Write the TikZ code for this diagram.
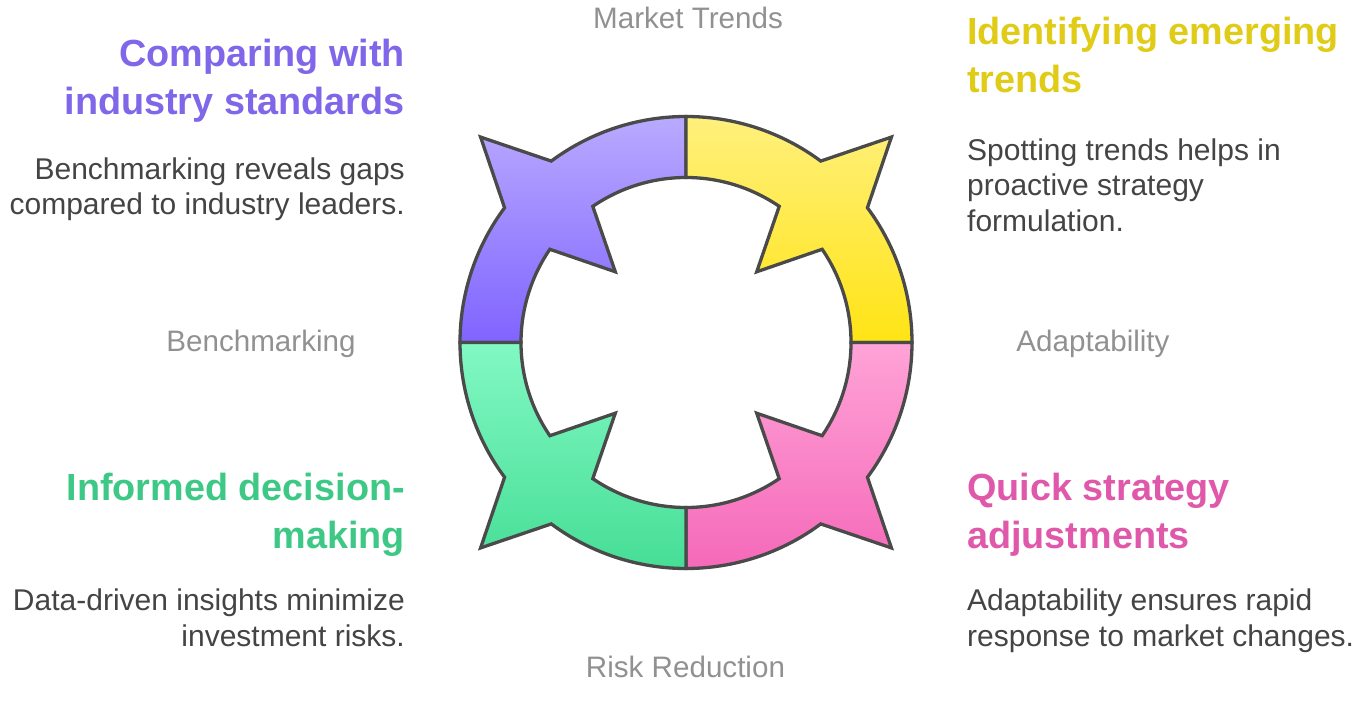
\documentclass[tikz,border=0pt]{standalone}
\usepackage{fontspec}
\setmainfont{Liberation Sans}
\definecolor{cpurple}{RGB}{128,102,232}
\definecolor{cyellow}{RGB}{224,203,22}
\definecolor{cgreen}{RGB}{61,201,133}
\definecolor{cpink}{RGB}{224,88,170}
\definecolor{cdesc}{RGB}{68,68,68}
\definecolor{cgray}{RGB}{145,145,145}
\definecolor{cstroke}{RGB}{74,74,74}
\definecolor{pTop}{RGB}{185,170,255}
\definecolor{pBot}{RGB}{128,100,255}
\definecolor{yTop}{RGB}{255,240,125}
\definecolor{yBot}{RGB}{255,228,20}
\definecolor{kTop}{RGB}{255,163,215}
\definecolor{kBot}{RGB}{245,105,185}
\definecolor{gTop}{RGB}{130,248,195}
\definecolor{gBot}{RGB}{70,222,150}
\newcommand\quadpath[1]{%
  (#1-45:226pt) arc[start angle=#1-45, end angle=#1-8.4, radius=226pt]
  -- (#1:290.5pt) -- (#1+8.4:226pt)
  arc[start angle=#1+8.4, end angle=#1+45, radius=226pt]
  -- (#1+45:165pt)
  arc[start angle=#1+45, end angle=#1+10.6, radius=165pt]
  -- (#1:100pt) -- (#1-10.6:165pt)
  arc[start angle=#1-10.6, end angle=#1-45, radius=165pt]
  -- cycle}
\tikzset{
  segment/.style={draw=cstroke, line width=3.3pt, line join=miter},
  titletext/.style={inner sep=0pt, font=\fontsize{37.8}{48}\selectfont\bfseries},
  desctext/.style={inner sep=0pt, text=cdesc, font=\fontsize{30}{35.5}\selectfont},
  labeltext/.style={inner sep=0pt, text=cgray, font=\fontsize{29.6}{35.5}\selectfont, anchor=base},
}
\begin{document}
\begin{tikzpicture}[x=1pt,y=1pt]
\useasboundingbox (0,0) rectangle (1370,705);
\begin{scope}[shift={(686,362.5)}]
  \draw[segment, top color=pTop, bottom color=pBot] \quadpath{135};
  \draw[segment, top color=yTop, bottom color=yBot] \quadpath{45};
  \draw[segment, top color=kTop, bottom color=kBot] \quadpath{-45};
  \draw[segment, top color=gTop, bottom color=gBot] \quadpath{225};
\end{scope}
% gray labels
\node[labeltext] (lmarket) at (688,676) {Market Trends};
\node[labeltext] (lbench) at (261,353.3) {Benchmarking};
\node[labeltext] (ladapt) at (1093,353.3) {Adaptability};
\node[labeltext] (lrisk) at (685.5,27.3) {Risk Reduction};
% purple (base anchor = last line)
\node[titletext, text=cpurple, anchor=base east, align=right] (tpurple) at (405,590) {Comparing with\\industry standards};
\node[desctext, anchor=base east, align=right] (dpurple) at (405,490) {Benchmarking reveals gaps\\compared to industry leaders.};
% yellow
\node[titletext, text=cyellow, anchor=base west, align=left] (tyellow) at (967,612) {Identifying emerging\\trends};
\node[desctext, anchor=base west, align=left] (dyellow) at (967,473.5) {Spotting trends helps in\\proactive strategy\\formulation.};
% green
\node[titletext, text=cgreen, anchor=base east, align=right] (tgreen) at (405,157) {Informed decision-\\making};
\node[desctext, anchor=base east, align=right] (dgreen) at (405,59) {Data-driven insights minimize\\investment risks.};
% pink
\node[titletext, text=cpink, anchor=base west, align=left] (tpink) at (967,157) {Quick strategy\\adjustments};
\node[desctext, anchor=base west, align=left] (dpink) at (967,59) {Adaptability ensures rapid\\response to market changes.};
\end{tikzpicture}
\end{document}
